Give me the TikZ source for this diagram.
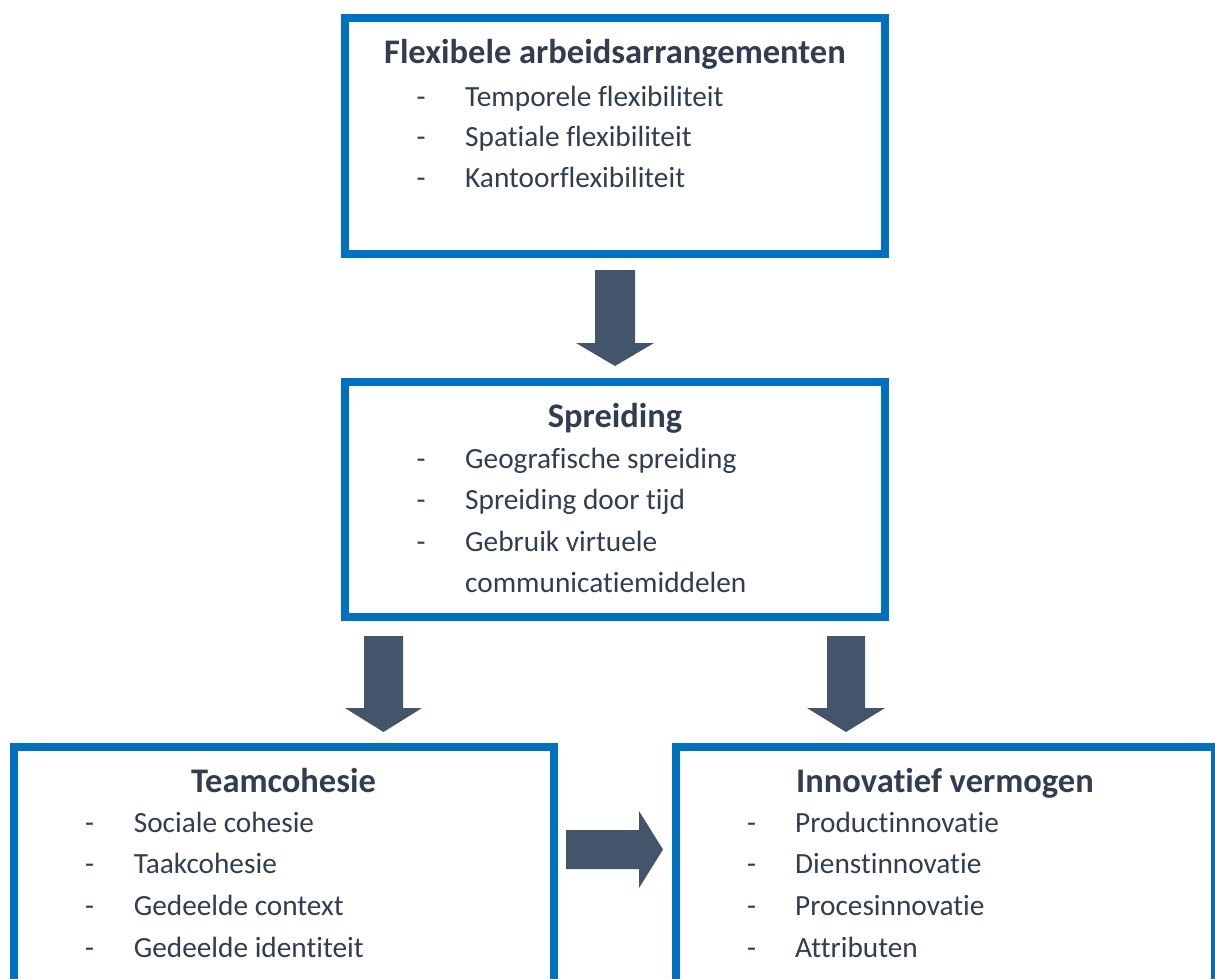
\documentclass[tikz,border=0pt]{standalone}
\usepackage{fontspec}
\setmainfont{Carlito}[Ligatures=NoCommon]
\definecolor{boxblue}{HTML}{0070C0}
\definecolor{arrowgray}{HTML}{44546A}
\definecolor{txt}{HTML}{323E4F}
\tikzset{
  box/.style={draw=boxblue, line width=8pt, fill=white, inner sep=0pt, minimum width=539.5pt},
  ttl/.style={anchor=base, inner sep=0pt, text=txt, font=\fontsize{34.5}{40}\selectfont\bfseries},
  itm/.style={anchor=base west, inner sep=0pt, text=txt, font=\fontsize{29.3}{35}\selectfont},
  blk/.style={fill=arrowgray, draw=none},
}
\begin{document}
\begin{tikzpicture}[x=1pt,y=-1pt]
\useasboundingbox (0,0) rectangle (1215,978);
\begin{scope}
\clip (0,0) rectangle (1215,978);
% boxes
\node[box, minimum width=540pt, minimum height=236pt] (top) at (615,136) {};
\node[box, minimum width=540pt, minimum height=235.5pt] (mid) at (615,499.25) {};
\node[box, minimum height=300pt] (bl) at (283.75,896.5) {};
\node[box, minimum height=300pt] (br) at (945.25,896.5) {};
% arrows
\fill[blk] (595,270) -- (635,270) -- (635,343) -- (654,343) -- (615,366) -- (576,343) -- (595,343) -- cycle;
\fill[blk] (364,636) -- (403,636) -- (403,708) -- (422,708) -- (383.5,732) -- (345,708) -- (364,708) -- cycle;
\fill[blk] (827,636) -- (865,636) -- (865,708) -- (885,708) -- (846,732) -- (807,708) -- (827,708) -- cycle;
\fill[blk] (566,830) -- (639,830) -- (639,811) -- (663,849.5) -- (639,888) -- (639,869) -- (566,869) -- cycle;
\end{scope}
% top box text
\node[ttl] (t0) at (615,63.3) {Flexibele arbeidsarrangementen};
\node[itm] (t1d) at (416.5,106) {-};
\node[itm] (t1) at (465,106) {Temporele flexibiliteit};
\node[itm] (t2d) at (416.5,146.5) {-};
\node[itm] (t2) at (465,146.5) {Spatiale flexibiliteit};
\node[itm] (t3d) at (416.5,187) {-};
\node[itm] (t3) at (465,187) {Kantoorflexibiliteit};
% middle box text
\node[ttl] (m0) at (615,427) {Spreiding};
\node[itm] (m1d) at (416.5,468) {-};
\node[itm] (m1) at (465,468) {Geografische spreiding};
\node[itm] (m2d) at (416.5,509) {-};
\node[itm] (m2) at (465,509) {Spreiding door tijd};
\node[itm] (m3d) at (416.5,551) {-};
\node[itm] (m3) at (465,551) {Gebruik virtuele};
\node[itm] (m4) at (465,592) {communicatiemiddelen};
% bottom left text
\node[ttl] (l0) at (283.5,792) {Teamcohesie};
\node[itm] (l1d) at (85,832) {-};
\node[itm] (l1) at (133.6,832) {Sociale cohesie};
\node[itm] (l2d) at (85,873) {-};
\node[itm] (l2) at (133.6,873) {Taakcohesie};
\node[itm] (l3d) at (85,915) {-};
\node[itm] (l3) at (133.6,915) {Gedeelde context};
\node[itm] (l4d) at (85,957) {-};
\node[itm] (l4) at (133.6,957) {Gedeelde identiteit};
% bottom right text
\node[ttl] (r0) at (945,792) {Innovatief vermogen};
\node[itm] (r1d) at (747,832) {-};
\node[itm] (r1) at (795,832) {Productinnovatie};
\node[itm] (r2d) at (747,873) {-};
\node[itm] (r2) at (795,873) {Dienstinnovatie};
\node[itm] (r3d) at (747,915) {-};
\node[itm] (r3) at (795,915) {Procesinnovatie};
\node[itm] (r4d) at (747,957) {-};
\node[itm] (r4) at (795,957) {Attributen};
\end{tikzpicture}
\end{document}
